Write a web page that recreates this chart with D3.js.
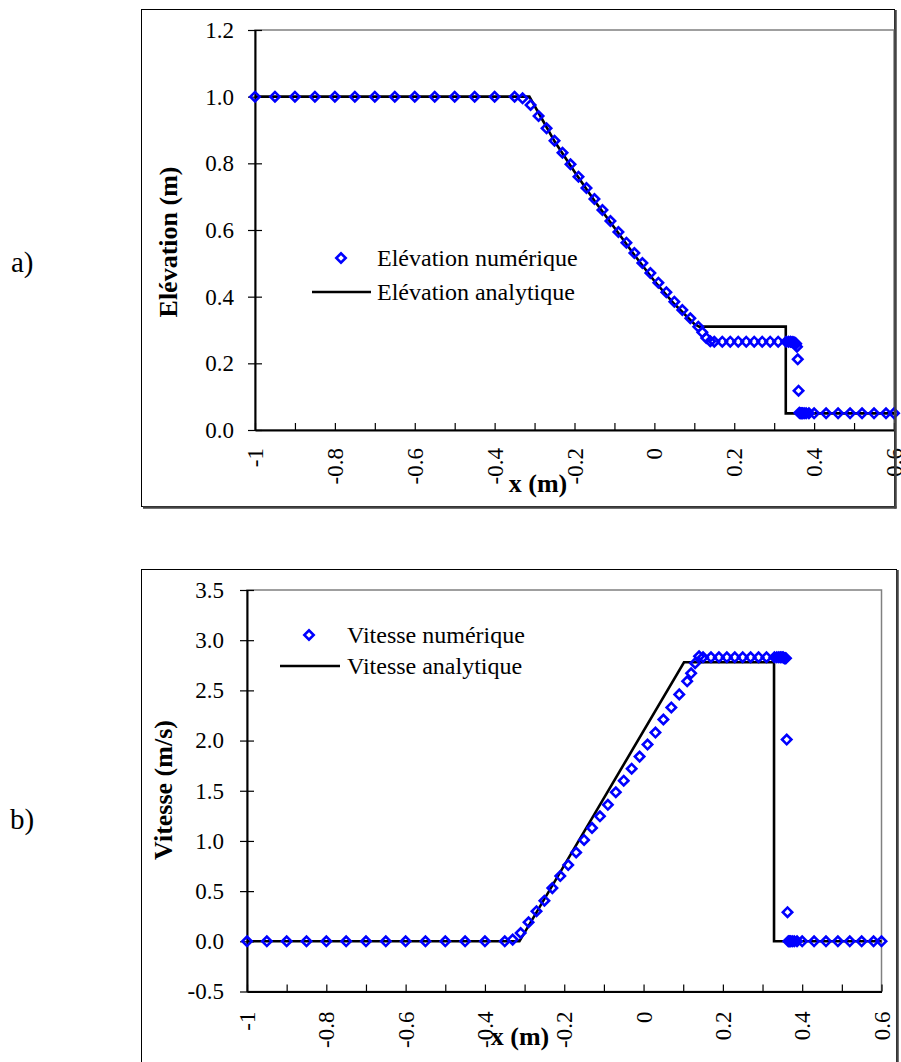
<!DOCTYPE html>
<html>
<head>
<meta charset="utf-8">
<script src="https://cdn.jsdelivr.net/npm/d3@7"></script>
<style>
  html, body { margin: 0; padding: 0; background: #fff; }
  svg { display: block; }
  text { font-family: "Liberation Serif", "Times New Roman", serif; fill: #000; }
</style>
</head>
<body>
<script>
// ---------------- DATA ----------------
const xMinorTicks = [-1, -0.9, -0.8, -0.7, -0.6, -0.5, -0.4, -0.3, -0.2, -0.1, 0, 0.1, 0.2, 0.3, 0.4, 0.5, 0.6];
const xTickLabels = [-1, -0.8, -0.6, -0.4, -0.2, 0, 0.2, 0.4, 0.6];
const yTicksElev = [0, 0.2, 0.4, 0.6, 0.8, 1.0, 1.2];
const yTicksVel = [-0.5, 0, 0.5, 1.0, 1.5, 2.0, 2.5, 3.0, 3.5];

// mesh positions of the numerical solution (x, m)
const meshX = [
  -1, -0.95, -0.9, -0.85, -0.8, -0.75, -0.7, -0.65, -0.6, -0.55, -0.5, -0.45, -0.4, -0.35,
  -0.33, -0.31, -0.29, -0.27, -0.25, -0.23, -0.21, -0.19, -0.17, -0.15, -0.13, -0.11, -0.09,
  -0.07, -0.05, -0.03, -0.01, 0.01, 0.03, 0.05, 0.07, 0.09, 0.11,
  0.12, 0.13, 0.14,
  0.15, 0.17, 0.19, 0.21, 0.23, 0.25, 0.27, 0.29, 0.31, 0.33,
  0.336, 0.341, 0.345, 0.349, 0.352, 0.355, 0.357, 0.359, 0.361, 0.363, 0.365, 0.368, 0.371, 0.375, 0.38, 0.387,
  0.4, 0.43, 0.46, 0.49, 0.52, 0.55, 0.58, 0.6
];
// numerical elevation (m)
const elevNum = [
  1, 1, 1, 1, 1, 1, 1, 1, 1, 1, 1, 1, 1, 1,
  0.995, 0.975, 0.942, 0.905, 0.868, 0.832, 0.797, 0.760, 0.726, 0.693, 0.660, 0.627, 0.594,
  0.562, 0.531, 0.501, 0.471, 0.442, 0.413, 0.385, 0.360, 0.335, 0.310,
  0.293, 0.276, 0.266,
  0.265, 0.265, 0.265, 0.265, 0.265, 0.265, 0.265, 0.265, 0.265, 0.265,
  0.265, 0.265, 0.264, 0.263, 0.262, 0.259, 0.25, 0.212, 0.118, 0.052, 0.05, 0.05, 0.05, 0.05, 0.05, 0.05,
  0.05, 0.05, 0.05, 0.05, 0.05, 0.05, 0.05, 0.05
];
// numerical velocity (m/s)
const velNum = [
  0, 0, 0, 0, 0, 0, 0, 0, 0, 0, 0, 0, 0, 0,
  0.017, 0.083, 0.19, 0.30, 0.405, 0.53, 0.65, 0.76, 0.885, 1.01, 1.13, 1.245, 1.36,
  1.485, 1.60, 1.72, 1.84, 1.96, 2.08, 2.21, 2.33, 2.46, 2.59,
  2.67, 2.77, 2.84,
  2.83, 2.83, 2.83, 2.83, 2.83, 2.83, 2.83, 2.83, 2.83, 2.83,
  2.83, 2.83, 2.83, 2.83, 2.83, 2.82, 2.82, 2.82, 2.01, 0.29, 0, 0, 0, 0, 0, 0,
  0, 0, 0, 0, 0, 0, 0, 0
];
// analytical elevation
const elevAnaX = [-1, -0.313, -0.28, -0.25, -0.2, -0.15, -0.1, -0.05, 0, 0.05, 0.1, 0.112, 0.329, 0.329, 0.6];
const elevAnaY = [1, 1, 0.93, 0.866, 0.775, 0.688, 0.607, 0.525, 0.447, 0.378, 0.318, 0.31, 0.31, 0.05, 0.05];
// analytical velocity
const velAnaX = [-1, -0.313, 0.102, 0.329, 0.329, 0.6];
const velAnaY = [0, 0, 2.78, 2.78, 0, 0];

const legendElev = ["Elévation numérique", "Elévation analytique"];
const legendVel = ["Vitesse numérique", "Vitesse analytique"];

// ---------------- DRAW ----------------
const W = 901, H = 1062;
const svg = d3.select("body").append("svg").attr("width", W).attr("height", H);

const BLUE = "#0000ff";
const FONT = "'Liberation Serif', 'Times New Roman', serif";
const fmtY = d => d.toFixed(1);
const fmtX = d => String(+d.toFixed(1));

function panel(cfg) {
  const g = svg.append("g");
  const x = d3.scaleLinear().domain([-1, 0.6]).range(cfg.xr);
  const y = d3.scaleLinear().domain(cfg.yd).range(cfg.yr);

  // outer box
  const ob = cfg.outer;
  g.append("rect").attr("x", ob[0] + 0.5).attr("y", ob[1] + 0.5)
    .attr("width", ob[2] - ob[0]).attr("height", ob[3] - ob[1])
    .attr("fill", "#fff").attr("stroke", "#000").attr("stroke-width", 1);

  // plot area frame (grey)
  g.append("rect").attr("x", cfg.xr[0]).attr("y", cfg.yr[1])
    .attr("width", cfg.xr[1] - cfg.xr[0]).attr("height", cfg.yr[0] - cfg.yr[1])
    .attr("fill", "none").attr("stroke", "#808080").attr("stroke-width", 1.5);

  // x axis: minor ticks inward
  const xa = g.append("g").attr("transform", `translate(0,${cfg.yr[0]})`)
    .call(d3.axisBottom(x).tickValues(xMinorTicks).tickSize(-7).tickSizeOuter(0).tickFormat(""));
  xa.select(".domain").attr("stroke", "#000").attr("stroke-width", 2);
  xa.selectAll(".tick line").attr("stroke", "#000").attr("stroke-width", 1.2);

  // x labels rotated
  const xl = g.append("g").attr("transform", `translate(0,${cfg.yr[0]})`)
    .call(d3.axisBottom(x).tickValues(xTickLabels).tickSize(0).tickFormat(fmtX));
  xl.select(".domain").remove();
  xl.selectAll("text")
    .attr("transform", "rotate(-90)")
    .attr("x", -cfg.xlabGap).attr("y", 0).attr("dy", "0.33em")
    .attr("text-anchor", "end")
    .style("font-family", FONT)
    .style("font-size", cfg.tickFont + "px").attr("fill", "#000");

  // y axis: crossing ticks
  const ya = g.append("g").attr("transform", `translate(${cfg.xr[0]},0)`)
    .call(d3.axisLeft(y).tickValues(cfg.yticks).tickSize(7).tickSizeOuter(0).tickPadding(cfg.ylabPad).tickFormat(fmtY));
  ya.select(".domain").attr("stroke", "#000").attr("stroke-width", 2);
  ya.selectAll(".tick line").attr("stroke", "#000").attr("stroke-width", 1.2);
  ya.selectAll("text")
    .style("font-family", FONT)
    .style("font-size", cfg.tickFont + "px").attr("fill", "#000");
  const yb = g.append("g").attr("transform", `translate(${cfg.xr[0]},0)`)
    .call(d3.axisRight(y).tickValues(cfg.yticks).tickSize(7).tickSizeOuter(0).tickFormat(""));
  yb.select(".domain").remove();
  yb.selectAll(".tick line").attr("stroke", "#000").attr("stroke-width", 1.2);

  // analytical line
  const line = d3.line().x(d => x(d[0])).y(d => y(d[1]));
  g.append("path").datum(d3.zip(cfg.anaX, cfg.anaY))
    .attr("d", line).attr("fill", "none").attr("stroke", "#000")
    .attr("stroke-width", 2.6).attr("stroke-linejoin", "miter");

  // numerical diamonds
  const sym = d3.symbol(d3.symbolSquare, 44);
  g.append("g").selectAll("path").data(d3.zip(meshX, cfg.num)).join("path")
    .attr("d", sym)
    .attr("transform", d => `translate(${x(d[0])},${y(d[1])}) rotate(45)`)
    .attr("fill", "none").attr("stroke", BLUE).attr("stroke-width", 2.6);

  // outer box shadow (right & bottom)
  g.append("line").attr("x1", ob[2] + 1.5).attr("x2", ob[2] + 1.5).attr("y1", ob[1] + 1).attr("y2", ob[3] + 2.5)
    .attr("stroke", "#444").attr("stroke-width", 2.5);
  g.append("line").attr("x1", ob[0] + 2).attr("x2", ob[2] + 2.5).attr("y1", ob[3] + 1.5).attr("y2", ob[3] + 1.5)
    .attr("stroke", "#444").attr("stroke-width", 2.5);

  // axis titles
  g.append("text").attr("x", cfg.xTitle[0]).attr("y", cfg.xTitle[1])
    .attr("text-anchor", "middle").style("font-weight", "bold").style("font-size", "26px").text("x (m)");
  g.append("text").attr("transform", `translate(${cfg.yTitle[0]},${cfg.yTitle[1]}) rotate(-90)`)
    .attr("text-anchor", "middle").attr("dy", "0.35em")
    .style("font-weight", "bold").style("font-size", "26px").text(cfg.yTitleText);

  // panel letter
  g.append("text").attr("x", cfg.letter[0]).attr("y", cfg.letter[1])
    .style("font-size", "29px").text(cfg.letterText);

  // legend
  const L = cfg.legend;
  g.append("path").attr("d", sym)
    .attr("transform", `translate(${L.mx},${L.y1}) rotate(45)`)
    .attr("fill", "none").attr("stroke", BLUE).attr("stroke-width", 2.6);
  g.append("text").attr("x", L.tx).attr("y", L.y1).attr("dy", "0.33em")
    .style("font-size", "24px").text(cfg.legendText[0]);
  g.append("line").attr("x1", L.lx1).attr("x2", L.lx2).attr("y1", L.y2).attr("y2", L.y2)
    .attr("stroke", "#000").attr("stroke-width", 2.6);
  g.append("text").attr("x", L.tx).attr("y", L.y2).attr("dy", "0.33em")
    .style("font-size", "24px").text(cfg.legendText[1]);
}

panel({
  outer: [141, 9, 894, 506],
  xr: [255, 894], yr: [430, 30], yd: [0, 1.2],
  yticks: yTicksElev, tickFont: 23, xlabGap: 18, ylabPad: 14,
  anaX: elevAnaX, anaY: elevAnaY, num: elevNum,
  xTitle: [538, 492], yTitle: [168, 242], yTitleText: "Elévation (m)",
  letter: [11, 272], letterText: "a)",
  legend: { mx: 341, tx: 377, y1: 258, y2: 292, lx1: 312, lx2: 371 },
  legendText: legendElev
});

panel({
  outer: [141, 569, 896, 1070],
  xr: [247, 881.5], yr: [991.5, 590], yd: [-0.5, 3.5],
  yticks: yTicksVel, tickFont: 23, xlabGap: 20, ylabPad: 16,
  anaX: velAnaX, anaY: velAnaY, num: velNum,
  xTitle: [520, 1045], yTitle: [163, 790], yTitleText: "Vitesse (m/s)",
  letter: [10, 829], letterText: "b)",
  legend: { mx: 309, tx: 347, y1: 635, y2: 666, lx1: 280, lx2: 340 },
  legendText: legendVel
});
</script>
</body>
</html>
